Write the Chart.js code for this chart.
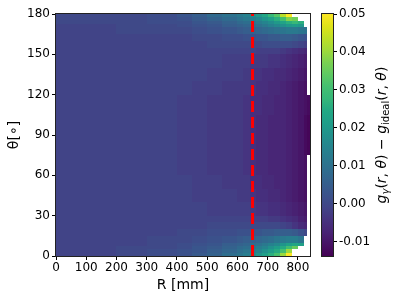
<!DOCTYPE html>
<html>
<head>
<meta charset="utf-8">
<script src="https://cdn.jsdelivr.net/npm/chart.js@4.4.1/dist/chart.umd.min.js"></script>
<style>
  html, body { margin: 0; padding: 0; background: #fff; }
</style>
</head>
<body>
<canvas id="myChart" width="399" height="299"></canvas>
<script>
"use strict";

// bin edges of the (R, theta) map
var rEdges = [0, 100, 200, 300, 400, 450, 500, 550, 600, 620, 640, 660, 680, 700, 720, 740, 760, 780, 800, 820, 830, 840];
var thetaEdges = [0, 2.5, 5, 7.5, 10, 15, 20, 25, 30, 40, 50, 60, 75, 90, 105, 120, 130, 140, 150, 155, 160, 165, 170, 172.5, 175, 177.5, 180];

var rTicks = [0, 100, 200, 300, 400, 500, 600, 700, 800];
var thetaTicks = [0, 30, 60, 90, 120, 150, 180];
var cbarTicks = [-0.01, 0, 0.01, 0.02, 0.03, 0.04, 0.05];
var cbarMin = -0.0138;
var cbarMax = 0.05;
var cutRadius = 650;

// g_gamma - g_ideal, in units of 1e-3; one row per theta bin (bottom to top), null = no data
var N = null;
var gDiff = [
  [-1, -1, 0, 1, 2, 4, 6, 9, 11, 13, 16, 19, 22, 26, 31, 40, 50, N, N, N, N],
  [-1, -1, 0, 1, 2, 3, 5, 7, 9, 11, 13, 15, 18, 21, 25, 31, 40, N, N, N, N],
  [-1, -1, 0, 0, 1, 3, 4, 6, 8, 9, 11, 13, 15, 18, 21, 25, 30, 35, N, N, N],
  [-1, -1, -1, 0, 1, 2, 3, 5, 6, 7, 9, 10, 12, 14, 16, 19, 22, 24, 22, N, N],
  [-1, -1, -1, 0, 0, 1, 2, 3, 4, 5, 6, 7, 8, 9, 11, 12, 13, 13, 11, N, N],
  [-1, -1, -1, -1, 0, 0, 1, 1, 2, 2, 3, 3, 4, 4, 5, 5, 5, 4, 2, 0, N],
  [-1, -1, -1, -1, -1, -1, 0, 0, 0, 0, 0, 0, 0, 0, 0, -1, -2, -4, -6, -7, N],
  [-1, -1, -1, -1, -1, -1, -1, -1, -1, -1, -2, -2, -2, -3, -3, -4, -5, -6, -8, -9, N],
  [-1, -1, -1, -1, -1, -1, -2, -2, -2, -2, -3, -4, -4, -5, -5, -6, -7, -8, -9, -10, N],
  [-1, -1, -1, -1, -1, -2, -2, -2, -3, -3, -4, -5, -5, -6, -6, -7, -8, -9, -10, -11, N],
  [-1, -1, -1, -1, -1, -2, -2, -3, -3, -3, -5, -5, -6, -6, -7, -7, -8, -9, -10, -11, N],
  [-1, -1, -1, -1, -2, -2, -3, -3, -3, -4, -5, -6, -6, -7, -7, -7, -8, -9, -10, -11, N],
  [-1, -1, -1, -1, -2, -2, -3, -3, -3, -4, -5, -6, -6, -7, -7, -7, -8, -9, -10, -12, -13],
  [-1, -1, -1, -1, -2, -2, -3, -3, -3, -4, -5, -6, -6, -7, -7, -7, -8, -9, -10, -12, -13],
  [-1, -1, -1, -1, -2, -2, -3, -3, -3, -4, -5, -5, -6, -6, -7, -7, -8, -9, -10, -11, -12],
  [-1, -1, -1, -1, -1, -2, -2, -3, -3, -3, -4, -5, -5, -6, -6, -7, -8, -9, -10, -11, N],
  [-1, -1, -1, -1, -1, -1, -2, -2, -2, -3, -4, -4, -5, -5, -6, -6, -7, -8, -9, -10, N],
  [-1, -1, -1, -1, -1, -1, -1, -2, -2, -2, -3, -3, -3, -4, -4, -5, -6, -7, -8, -9, N],
  [-1, -1, -1, -1, -1, -1, -1, -1, -1, -1, -1, -2, -2, -2, -2, -3, -4, -5, -6, -7, N],
  [-1, -1, -1, -1, -1, -1, 0, 0, 0, 0, 0, 0, 1, 1, 1, 1, 1, 0, -1, -2, N],
  [-1, -1, -1, -1, -1, 0, 0, 1, 1, 2, 2, 3, 3, 4, 4, 5, 5, 4, 3, 2, N],
  [-1, -1, 0, 0, 0, 1, 2, 3, 4, 5, 6, 7, 8, 9, 10, 11, 12, 12, 11, 10, N],
  [-1, -1, 0, 0, 1, 2, 3, 5, 6, 7, 9, 10, 12, 14, 16, 18, 20, 21, 20, N, N],
  [0, 0, 0, 1, 1, 3, 4, 6, 8, 9, 11, 13, 15, 17, 20, 23, 26, 28, 26, N, N],
  [0, 0, 0, 1, 2, 4, 6, 8, 10, 12, 14, 16, 19, 22, 26, 31, 38, 36, N, N, N],
  [0, 0, 0, 1, 3, 5, 8, 10, 12, 14, 17, 20, 24, 28, 33, 43, 50, N, N, N, N]
];

var FONT = 'DejaVu Sans';

var viridisStops = ['#440154', '#471365', '#482475', '#46337f', '#414487', '#3b528b', '#355f8d',
  '#2f6c8e', '#2a788e', '#25848e', '#21918c', '#1f9e89', '#22a884', '#35b779', '#44bf70',
  '#5ec962', '#7ad151', '#9fda3a', '#bddf26', '#dfe318', '#fde725'];

function hexRgb(h) {
  return [parseInt(h.substr(1, 2), 16), parseInt(h.substr(3, 2), 16), parseInt(h.substr(5, 2), 16)];
}

function viridis(t) {
  t = Math.max(0, Math.min(1, t));
  var f = t * (viridisStops.length - 1);
  var i = Math.min(Math.floor(f), viridisStops.length - 2);
  var k = f - i;
  var a = hexRgb(viridisStops[i]), b = hexRgb(viridisStops[i + 1]);
  return 'rgb(' + Math.round(a[0] + (b[0] - a[0]) * k) + ',' +
    Math.round(a[1] + (b[1] - a[1]) * k) + ',' + Math.round(a[2] + (b[2] - a[2]) * k) + ')';
}

function drawColorbarLabel(ctx, cx, cy) {
  var big = '14px ' + FONT, bigIt = 'italic 14px ' + FONT;
  var sub = '10px ' + FONT, subIt = 'italic 10px ' + FONT;
  var parts = [
    ['g', bigIt, 0], ['\u03b3', subIt, 3], ['(', big, 0], ['r', bigIt, 0], [', ', big, 0],
    ['\u03b8', bigIt, 0], [')', big, 0], [' \u2212 ', big, 0],
    ['g', bigIt, 0], ['ideal', sub, 3], ['(', big, 0], ['r', bigIt, 0], [', ', big, 0],
    ['\u03b8', bigIt, 0], [')', big, 0]
  ];
  ctx.save();
  var total = 0;
  parts.forEach(function (p) { ctx.font = p[1]; total += ctx.measureText(p[0]).width; });
  ctx.translate(cx, cy);
  ctx.rotate(-Math.PI / 2);
  ctx.fillStyle = '#000';
  ctx.textBaseline = 'alphabetic';
  var x = -total / 2;
  parts.forEach(function (p) {
    ctx.font = p[1];
    ctx.fillText(p[0], x, 5 + p[2]);
    x += ctx.measureText(p[0]).width;
  });
  ctx.restore();
}

var heatmapPlugin = {
  id: 'heatmap',
  beforeDatasetsDraw: function (chart) {
    var ctx = chart.ctx, xs = chart.scales.x, ys = chart.scales.y;
    ctx.save();
    for (var i = 0; i < gDiff.length; i++) {
      var y0 = Math.round(ys.getPixelForValue(thetaEdges[i]));
      var y1 = Math.round(ys.getPixelForValue(thetaEdges[i + 1]));
      for (var j = 0; j < gDiff[i].length; j++) {
        var v = gDiff[i][j];
        if (v === null) continue;
        var x0 = Math.round(xs.getPixelForValue(rEdges[j]));
        var x1 = Math.round(xs.getPixelForValue(rEdges[j + 1]));
        ctx.fillStyle = viridis((v / 1000 - cbarMin) / (cbarMax - cbarMin));
        ctx.fillRect(x0, y1, x1 - x0, y0 - y1);
      }
    }
    ctx.restore();
  },
  afterDraw: function (chart) {
    var ctx = chart.ctx, ca = chart.chartArea, cb = chart.scales.cb;
    ctx.save();
    // plot frame
    ctx.strokeStyle = '#222';
    ctx.lineWidth = 1;
    ctx.strokeRect(ca.left - 0.5, ca.top - 0.5, ca.right - ca.left + 1, ca.bottom - ca.top + 1);
    // colorbar
    var top = cb.getPixelForValue(cbarMax), bot = cb.getPixelForValue(cbarMin);
    var right = cb.left, left = right - 11;
    var grad = ctx.createLinearGradient(0, bot, 0, top);
    viridisStops.forEach(function (c, k) { grad.addColorStop(k / (viridisStops.length - 1), c); });
    ctx.fillStyle = grad;
    ctx.fillRect(left, top, right - left, bot - top);
    ctx.strokeRect(left - 0.5, top - 0.5, right - left + 1, bot - top + 1);
    ctx.restore();
    drawColorbarLabel(ctx, 381, (top + bot) / 2);
  }
};

function fixedTicks(list) {
  return function (scale) { scale.ticks = list.map(function (v) { return { value: v }; }); };
}

var tickFont = { family: FONT, size: 12 };

var ctx = document.querySelector('#myChart').getContext('2d');

var myChart = new Chart(ctx, {
  type: 'scatter',
  data: {
    datasets: [{
      data: [{ x: cutRadius, y: thetaEdges[0] }, { x: cutRadius, y: thetaEdges[thetaEdges.length - 1] }],
      showLine: true,
      borderColor: '#ff0000',
      borderWidth: 3,
      borderDash: [11, 5],
      pointRadius: 0
    }]
  },
  options: {
    responsive: false,
    animation: false,
    layout: { padding: { top: 14, left: 0, right: 0, bottom: 0 } },
    plugins: { legend: false, tooltip: { enabled: false } },
    scales: {
      x: {
        type: 'linear', min: 0, max: 840,
        afterBuildTicks: fixedTicks(rTicks),
        afterFit: function (s) { s.height = 43; },
        border: { display: false },
        grid: { drawOnChartArea: false, tickLength: 4, color: '#000' },
        ticks: { font: tickFont, color: '#000', padding: 1, autoSkip: false, maxRotation: 0 },
        title: { display: true, text: 'R [mm]', color: '#000', font: { family: FONT, size: 14 }, padding: { top: 0, bottom: 5 } }
      },
      y: {
        type: 'linear', min: 0, max: 180,
        afterBuildTicks: fixedTicks(thetaTicks),
        afterFit: function (s) { s.width = 56; },
        border: { display: false },
        grid: { drawOnChartArea: false, tickLength: 4, color: '#000' },
        ticks: { font: tickFont, color: '#000', padding: 2 },
        title: { display: true, text: '\u03b8[\u2218]', color: '#000', font: { family: FONT, size: 14 }, padding: { top: 6, bottom: 0 } }
      },
      gap: {
        type: 'linear', axis: 'y', position: 'right', min: 0, max: 1,
        afterFit: function (s) { s.width = 23; },
        border: { display: false },
        grid: { display: false },
        ticks: { display: false }
      },
      cb: {
        type: 'linear', axis: 'y', position: 'right', min: cbarMin, max: cbarMax,
        afterBuildTicks: fixedTicks(cbarTicks),
        afterFit: function (s) { s.width = 66; },
        border: { display: false },
        grid: { drawOnChartArea: false, tickLength: 4, color: '#000' },
        ticks: {
          font: tickFont, color: '#000', padding: 2,
          callback: function (v) { return (Math.abs(v) < 1e-9 ? 0 : v).toFixed(2); }
        }
      }
    }
  },
  plugins: [heatmapPlugin]
});
</script>
</body>
</html>
